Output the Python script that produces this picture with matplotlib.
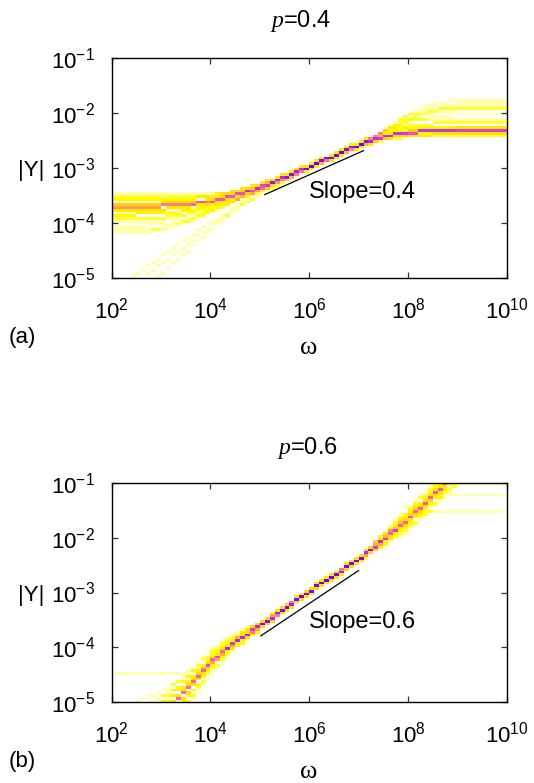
import numpy as np
import matplotlib
matplotlib.use("Agg")
import matplotlib.pyplot as plt
from matplotlib.colors import LinearSegmentedColormap
from matplotlib.ticker import NullLocator

plt.rcParams['font.family'] = ['Liberation Sans', 'DejaVu Sans']
plt.rcParams['mathtext.fontset'] = 'custom'
plt.rcParams['mathtext.rm'] = 'Liberation Sans'
plt.rcParams['mathtext.it'] = 'Liberation Serif:italic'
plt.rcParams['mathtext.default'] = 'regular'

# ---------------- data (log10 values) ----------------
log_omega_knots = [2, 3, 3.5, 4, 4.5, 5, 5.5, 6, 6.5, 7, 7.5, 8, 8.5, 9, 10]

# panel (a): p = 0.4, log10|Y| of the realisations at the knots
curves_a = [
    [-3.72, -3.70, -3.67, -3.62, -3.51, -3.36, -3.18, -2.99, -2.79, -2.59, -2.44, -2.36, -2.34, -2.33, -2.33],
    [-3.66, -3.65, -3.63, -3.59, -3.49, -3.35, -3.18, -2.99, -2.79, -2.59, -2.43, -2.35, -2.33, -2.32, -2.32],
    [-3.78, -3.76, -3.72, -3.65, -3.53, -3.37, -3.18, -2.99, -2.79, -2.59, -2.44, -2.36, -2.34, -2.34, -2.34],
    [-3.58, -3.57, -3.56, -3.53, -3.44, -3.30, -3.13, -2.94, -2.74, -2.54, -2.38, -2.29, -2.27, -2.26, -2.26],
    [-3.86, -3.84, -3.79, -3.70, -3.57, -3.41, -3.23, -3.04, -2.84, -2.64, -2.48, -2.41, -2.40, -2.40, -2.40],
    [-3.54, -3.54, -3.53, -3.51, -3.43, -3.31, -3.13, -2.94, -2.74, -2.54, -2.36, -2.24, -2.20, -2.19, -2.19],
    [-3.93, -3.91, -3.85, -3.74, -3.59, -3.41, -3.23, -3.04, -2.84, -2.64, -2.49, -2.44, -2.44, -2.44, -2.44],
    [-3.69, -3.68, -3.66, -3.61, -3.51, -3.36, -3.18, -2.99, -2.79, -2.59, -2.42, -2.33, -2.31, -2.30, -2.30],
    [-4.00, -3.97, -3.90, -3.77, -3.60, -3.40, -3.20, -3.00, -2.80, -2.59, -2.38, -2.18, -2.08, -2.04, -2.03],
    [-4.08, -4.04, -3.95, -3.79, -3.61, -3.40, -3.20, -3.00, -2.80, -2.59, -2.36, -2.12, -1.99, -1.95, -1.94],
    [-4.15, -4.10, -3.98, -3.81, -3.61, -3.40, -3.20, -3.00, -2.80, -2.58, -2.34, -2.06, -1.90, -1.85, -1.84],
    [-4.20, -4.14, -4.01, -3.82, -3.62, -3.40, -3.20, -3.00, -2.79, -2.58, -2.33, -2.02, -1.84, -1.78, -1.76],
    [-3.50, -3.50, -3.50, -3.49, -3.44, -3.33, -3.16, -2.98, -2.78, -2.58, -2.36, -2.15, -2.10, -2.10, -2.10],
    [-5.30, -4.62, -4.30, -4.00, -3.72, -3.45, -3.22, -3.01, -2.80, -2.60, -2.45, -2.38, -2.36, -2.35, -2.35],
    [-5.50, -4.75, -4.42, -4.08, -3.76, -3.47, -3.23, -3.01, -2.81, -2.61, -2.46, -2.40, -2.38, -2.38, -2.38],
    [-5.80, -4.95, -4.55, -4.15, -3.79, -3.48, -3.23, -3.01, -2.81, -2.61, -2.46, -2.40, -2.38, -2.38, -2.38],
    [-3.81, -3.80, -3.76, -3.68, -3.55, -3.37, -3.19, -3.00, -2.80, -2.59, -2.37, -2.13, -1.96, -1.90, -1.89],
    [-3.62, -3.62, -3.61, -3.57, -3.49, -3.35, -3.18, -2.99, -2.79, -2.58, -2.35, -2.08, -1.95, -1.92, -1.91],
]
weights_a = [10, 5, 5, 3, 3, 2, 2, 2, 1, 1, 1, 1, 1, 1, 1, 1, 1, 1]

# panel (b): p = 0.6
curves_b = [
    [-6.30, -5.30, -4.80, -4.27, -3.90, -3.61, -3.30, -2.98, -2.69, -2.40, -2.05, -1.67, -1.24, -0.82, 0.00],
    [-6.22, -5.22, -4.74, -4.22, -3.87, -3.60, -3.29, -2.98, -2.69, -2.39, -2.02, -1.62, -1.19, -0.77, 0.05],
    [-6.38, -5.38, -4.86, -4.32, -3.93, -3.62, -3.31, -2.98, -2.69, -2.41, -2.08, -1.72, -1.29, -0.87, -0.05],
    [-6.10, -5.12, -4.66, -4.17, -3.83, -3.56, -3.25, -2.93, -2.64, -2.35, -1.99, -1.57, -1.14, -0.72, 0.10],
    [-6.50, -5.48, -4.94, -4.37, -3.96, -3.66, -3.35, -3.03, -2.74, -2.45, -2.11, -1.77, -1.34, -0.92, -0.10],
    [-6.00, -5.02, -4.57, -4.11, -3.79, -3.55, -3.25, -2.93, -2.64, -2.35, -1.96, -1.51, -1.08, -0.66, 0.16],
    [-6.60, -5.60, -5.04, -4.43, -4.00, -3.67, -3.35, -3.03, -2.74, -2.45, -2.14, -1.83, -1.40, -0.98, -0.16],
    [-5.90, -4.92, -4.48, -4.05, -3.75, -3.54, -3.27, -2.97, -2.68, -2.38, -1.93, -1.45, -1.02, -0.60, 0.22],
    [-6.70, -5.72, -5.14, -4.49, -4.03, -3.68, -3.33, -2.99, -2.70, -2.42, -2.17, -1.89, -1.46, -1.04, -0.22],
    [-4.49, -4.49, -4.48, -4.30, -3.92, -3.61, -3.30, -2.98, -2.69, -2.40, -2.05, -1.67, -1.24, -0.82, 0.00],
    [-5.45, -4.90, -4.62, -4.30, -3.92, -3.61, -3.30, -2.98, -2.69, -2.40, -2.05, -1.67, -1.24, -0.82, 0.00],
    [-5.25, -4.78, -4.55, -4.28, -3.91, -3.61, -3.30, -2.98, -2.69, -2.40, -2.05, -1.67, -1.24, -0.82, 0.00],
    [-5.70, -5.02, -4.70, -4.31, -3.92, -3.61, -3.30, -2.98, -2.69, -2.40, -2.05, -1.67, -1.24, -0.82, 0.00],
    [-6.30, -5.30, -4.80, -4.27, -3.90, -3.61, -3.30, -2.98, -2.69, -2.40, -2.03, -1.62, -1.53, -1.53, -1.53],
    [-6.30, -5.30, -4.80, -4.27, -3.90, -3.61, -3.30, -2.98, -2.69, -2.40, -2.02, -1.58, -1.30, -1.22, -1.20],
    [-6.30, -5.30, -4.80, -4.27, -3.90, -3.61, -3.30, -2.98, -2.69, -2.40, -2.01, -1.55, -1.18, -1.05, -1.02],
]
weights_b = [10, 5, 5, 3, 3, 2, 2, 1, 1, 1, 1, 1, 1, 1, 1, 1]

# reference slope lines (omega, |Y|) and labels
slope_a = ([10**5.1, 10**7.1], [10**-3.49, 10**-2.69])
slope_b = ([10**5.02, 10**7.0], [10**-3.79, 10**-2.60])
slope_labels = ["Slope=0.4", "Slope=0.6"]
titles = [r"$\mathit{p}$=0.4", r"$\mathit{p}$=0.6"]
panel_tags = ["(a)", "(b)"]
xticks = [1e2, 1e4, 1e6, 1e8, 1e10]
xticklabels = [r"$10^{2}$", r"$10^{4}$", r"$10^{6}$", r"$10^{8}$", r"$10^{10}$"]
yticks = [1e-5, 1e-4, 1e-3, 1e-2, 1e-1]
yticklabels = [r"$10^{-5}$", r"$10^{-4}$", r"$10^{-3}$", r"$10^{-2}$", r"$10^{-1}$"]

# ---------------- figure ----------------
W, H = 534, 783
fig = plt.figure(figsize=(W / 100, H / 100), dpi=100)

cmap = LinearSegmentedColormap.from_list(
    "gp",
    [(0.0, "#fffff2"), (0.025, "#ffffcc"), (0.05, "#ffff60"), (0.075, "#ffff00"),
     (0.18, "#ffe400"), (0.28, "#ffa840"), (0.42, "#ff6c98"), (0.58, "#f046cc"),
     (0.78, "#b020f2"), (1.0, "#7000ff")])

xedges = np.linspace(2.0, 10.0, 81)
yedges = np.linspace(-5.0, -1.0, 81)
xcent = 0.5 * (xedges[:-1] + xedges[1:])


def density(curves, weights):
    xs, ys, ws = [], [], []
    for c, w in zip(curves, weights):
        yv = np.interp(xcent, log_omega_knots, c)
        xs.append(xcent)
        ys.append(yv)
        ws.append(np.full_like(xcent, w, dtype=float))
    h, _, _ = np.histogram2d(np.concatenate(xs), np.concatenate(ys),
                             bins=[xedges, yedges], weights=np.concatenate(ws))
    return h.T


def px_axes(left, top, right, bottom):
    return [left / W, 1 - bottom / H, (right - left) / W, (bottom - top) / H]


panels = [
    (px_axes(111.7, 57.7, 506.7, 277.7), curves_a, weights_a, slope_a, (10**6.0, 10**-3.44)),
    (px_axes(111.7, 482.7, 506.7, 702.3), curves_b, weights_b, slope_b, (10**6.0, 10**-3.53)),
]
title_pos = [(301, 21), (307, 448)]
tag_pos = [(22, 338), (22, 761)]
omega_pos = [(309, 354), (309, 778)]
ylab_pos = [(31, 170.7), (31, 595.5)]

for i, (rect, curves, weights, slope, txtpos) in enumerate(panels):
    ax = fig.add_axes(rect)
    ax.set_xscale("log")
    ax.set_yscale("log")
    h = density(curves, weights)
    hm = np.ma.masked_where(h <= 0, h / h.max())
    ax.pcolormesh(10**xedges, 10**yedges, hm, cmap=cmap, vmin=0, vmax=1,
                  shading="flat", zorder=1)
    ax.plot(slope[0], slope[1], color="black", lw=0.9, zorder=3)
    ax.text(txtpos[0], txtpos[1], slope_labels[i], fontsize=17,
            ha="left", va="center", zorder=4)
    ax.set_xlim(1e2, 1e10)
    ax.set_ylim(1e-5, 1e-1)
    ax.set_xticks(xticks)
    ax.set_xticklabels(xticklabels)
    ax.set_yticks(yticks)
    ax.set_yticklabels(yticklabels)
    ax.xaxis.set_minor_locator(NullLocator())
    ax.yaxis.set_minor_locator(NullLocator())
    ax.tick_params(direction="in", top=True, right=True, length=4.5, width=0.9,
                   color="#333333", labelsize=16)
    ax.tick_params(axis="x", pad=14)
    ax.tick_params(axis="y", pad=12)
    for s in ax.spines.values():
        s.set_linewidth(1.0)

    fig.text(title_pos[i][0] / W, 1 - title_pos[i][1] / H, titles[i],
             ha="center", va="center", fontsize=17)
    fig.text(tag_pos[i][0] / W, 1 - tag_pos[i][1] / H, panel_tags[i],
             ha="center", va="center", fontsize=16)
    fig.text(omega_pos[i][0] / W, 1 - omega_pos[i][1] / H, "ω",
             ha="center", va="baseline", fontsize=19,
             family=["Liberation Serif", "DejaVu Serif"])
    fig.text(ylab_pos[i][0] / W, 1 - ylab_pos[i][1] / H, "|Y|",
             ha="center", va="center", fontsize=16)

fig.savefig("out.png", dpi=100)
